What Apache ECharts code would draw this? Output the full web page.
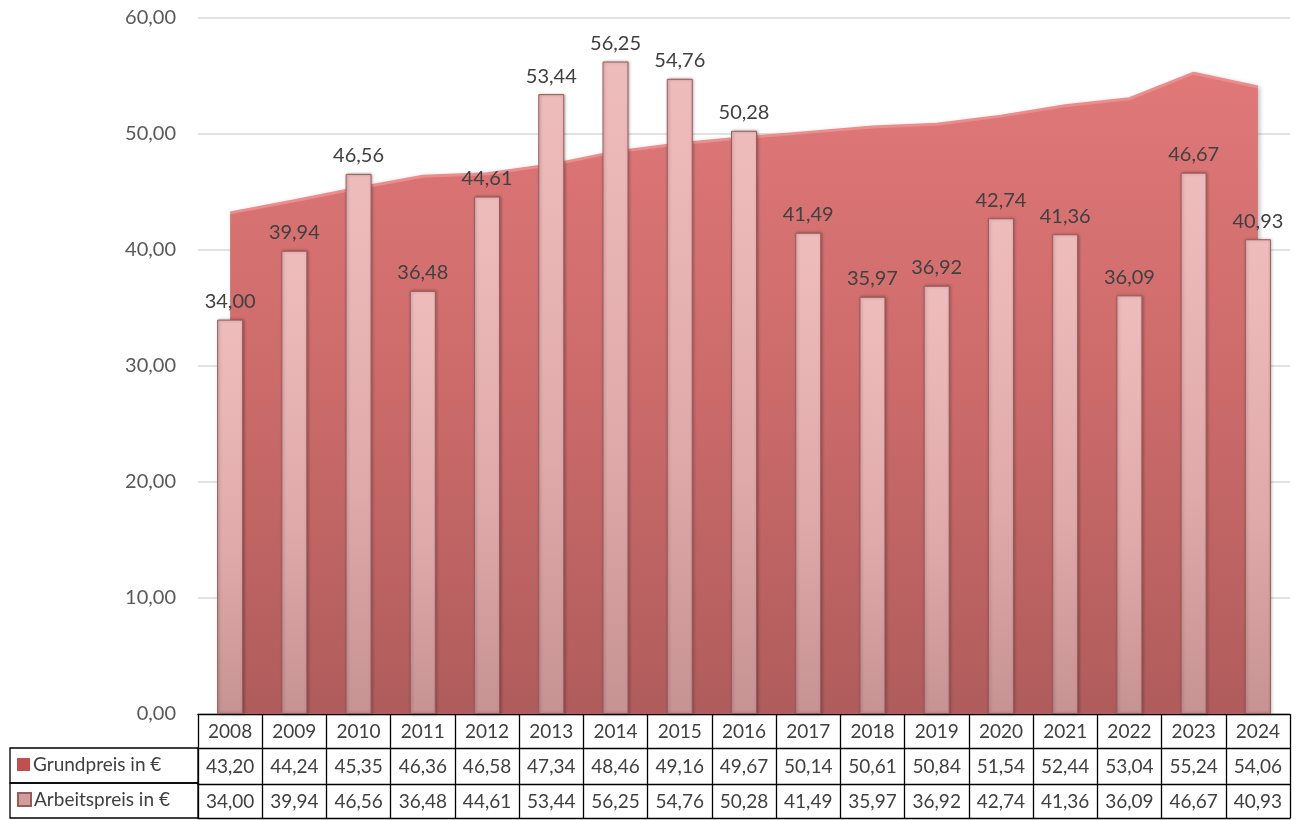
<!DOCTYPE html>
<html>
<head>
<meta charset="utf-8">
<script src="https://cdn.jsdelivr.net/npm/echarts@6/dist/echarts.min.js"></script>
<style>
  html, body { margin: 0; padding: 0; background: #fff; }
  #main { width: 1301px; height: 820px; }
</style>
</head>
<body>
<div id="main"></div>
<script>
// Jahre und Preise (aus der Tabelle unter dem Diagramm)
var years = ['2008', '2009', '2010', '2011', '2012', '2013', '2014', '2015', '2016',
  '2017', '2018', '2019', '2020', '2021', '2022', '2023', '2024'];
var grundpreis = [43.20, 44.24, 45.35, 46.36, 46.58, 47.34, 48.46, 49.16, 49.67,
  50.14, 50.61, 50.84, 51.54, 52.44, 53.04, 55.24, 54.06];
var arbeitspreis = [34.00, 39.94, 46.56, 36.48, 44.61, 53.44, 56.25, 54.76, 50.28,
  41.49, 35.97, 36.92, 42.74, 41.36, 36.09, 46.67, 40.93];
var yTicks = [0, 10, 20, 30, 40, 50, 60];

var fmt = function (v) {
  return Number(v).toFixed(2).replace('.', ',');
};

var FONT = 'Lato';
var myChart = echarts.init(document.getElementById('main'));

// leere Achsen nur für die Tabellenlinien
var lineAxis = function (off) {
  return {
    type: 'category',
    data: years,
    position: 'bottom',
    offset: off,
    axisLine: { show: true, lineStyle: { color: '#000', width: 1.3 } },
    axisTick: { show: false },
    axisLabel: { show: false },
    splitLine: { show: false }
  };
};

// eine Legende je Tabellenzeile
var rowLegend = function (name, color, top) {
  return {
    left: 17,
    top: top,
    padding: 0,
    itemWidth: 13,
    itemHeight: 13,
    itemGap: 6,
    icon: 'rect',
    textStyle: { fontFamily: FONT, fontSize: 19, color: '#404040', padding: [0, 0, 0, -2] },
    data: [{ name: name, itemStyle: { color: color } }]
  };
};

myChart.setOption({
  animation: false,
  textStyle: { fontFamily: FONT },
  grid: { left: 198, right: 11, top: 18, bottom: 106 },
  legend: [
    rowLegend('Grundpreis in €', '#c0504d', 755),
    rowLegend('Arbeitspreis in €', '#d19c9c', 790)
  ],
  xAxis: [{
    type: 'category',
    data: years,
    axisLine: { show: true, lineStyle: { color: '#000', width: 1.3 } },
    axisTick: { show: true, interval: 0, length: 104, lineStyle: { color: '#000', width: 1.3 } },
    axisLabel: {
      interval: 0,
      margin: 0,
      formatter: function (val, idx) {
        return '{y|' + val + '}\n{v|' + fmt(grundpreis[idx]) + '}\n{v|' + fmt(arbeitspreis[idx]) + '}';
      },
      rich: {
        y: { fontFamily: FONT, fontSize: 19, color: '#404040', lineHeight: 35 },
        v: { fontFamily: FONT, fontSize: 19, color: '#404040', lineHeight: 35 }
      }
    }
  }, lineAxis(34), lineAxis(70), lineAxis(104)],
  yAxis: {
    type: 'value',
    min: yTicks[0],
    max: yTicks[yTicks.length - 1],
    interval: 10,
    axisLine: { show: false },
    axisTick: { show: false },
    axisLabel: {
      margin: 22,
      fontFamily: FONT,
      fontSize: 20,
      color: '#595959',
      formatter: function (v) { return fmt(v); }
    },
    splitLine: { lineStyle: { color: '#d9d9d9', width: 1.5 } }
  },
  graphic: [
    {
      type: 'rect',
      shape: { x: 10, y: 748, width: 188, height: 35 },
      style: { fill: 'none', stroke: '#000', lineWidth: 1.3 }
    },
    {
      type: 'rect',
      shape: { x: 10, y: 783, width: 188, height: 35 },
      style: { fill: 'none', stroke: '#000', lineWidth: 1.3 }
    }
  ],
  series: [
    {
      name: 'Grundpreis in €',
      type: 'line',
      data: grundpreis,
      symbol: 'none',
      z: 1,
      itemStyle: { color: '#c0504d' },
      lineStyle: { color: '#eb8d8d', width: 3 },
      areaStyle: {
        opacity: 1,
        color: new echarts.graphic.LinearGradient(0, 0, 0, 1, [
          { offset: 0, color: '#e07878' },
          { offset: 0.5, color: '#cc6a6a' },
          { offset: 1, color: '#b05c5c' }
        ]),
        shadowColor: 'rgba(0,0,0,0.25)',
        shadowBlur: 4,
        shadowOffsetX: 2
      }
    },
    {
      name: 'Arbeitspreis in €',
      type: 'bar',
      data: arbeitspreis,
      barWidth: 26,
      z: 3,
      itemStyle: {
        color: new echarts.graphic.LinearGradient(0, 0, 0, 1, [
          { offset: 0, color: '#efbcbc' },
          { offset: 0.6, color: '#e0a9a9' },
          { offset: 1, color: '#c79292' }
        ]),
        borderColor: '#9a5a5a',
        borderWidth: 1,
        shadowColor: 'rgba(0,0,0,0.3)',
        shadowBlur: 3,
        shadowOffsetX: 1
      },
      label: {
        show: true,
        position: 'top',
        distance: 8,
        fontFamily: FONT,
        fontSize: 20,
        color: '#404040',
        formatter: function (p) { return fmt(p.value); }
      }
    }
  ]
});
</script>
</body>
</html>
